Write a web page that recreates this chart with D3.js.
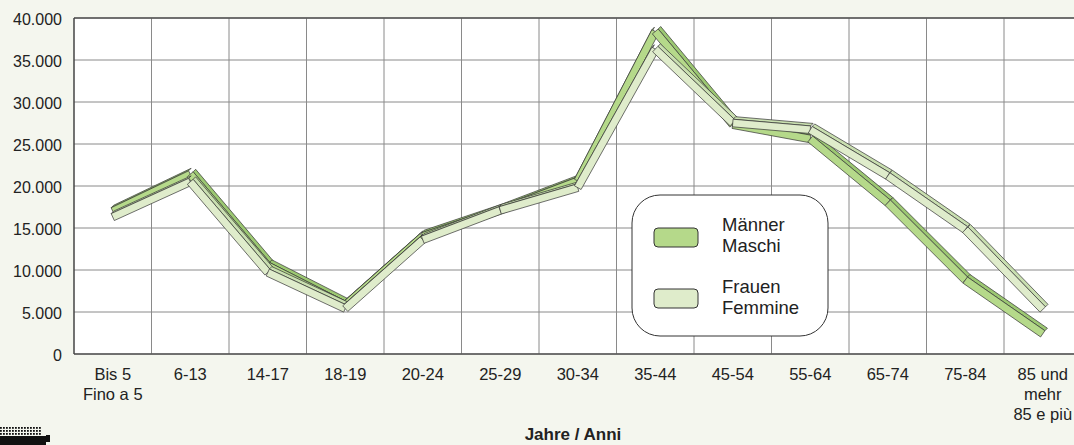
<!DOCTYPE html>
<html>
<head>
<meta charset="utf-8">
<script src="https://cdn.jsdelivr.net/npm/d3@7"></script>
<style>
  body { margin: 0; background: #f4f6ee; }
  svg { display: block; font-family: "Liberation Sans", Arial, sans-serif; }
</style>
</head>
<body>
<svg id="chart" width="1074" height="445"></svg>
<script>
// age groups (label lines)
const categories = [
  ['Bis 5', 'Fino a 5'], ['6-13'], ['14-17'], ['18-19'], ['20-24'], ['25-29'],
  ['30-34'], ['35-44'], ['45-54'], ['55-64'], ['65-74'], ['75-84'],
  ['85 und', 'mehr', '85 e più']
];
const maenner = [17000, 21400, 10500, 5800, 14000, 17100, 20600, 38400, 27300, 25600, 18000, 8800, 2400];
const frauen  = [16300, 20500, 9700, 5400, 13600, 17100, 19800, 36300, 27500, 26700, 21200, 14800, 5300];
const yTicks = [0, 5000, 10000, 15000, 20000, 25000, 30000, 35000, 40000];
const legendItems = [['Männer', 'Maschi'], ['Frauen', 'Femmine']];

const colM = '#b5d98a', colF = '#dfeccb';
const margin = {top: 18, left: 74, bottom: 91};
const width = 13 * 77.5;
const height = 445 - margin.top - margin.bottom;

const svg = d3.select('#chart');
const g = svg.append('g').attr('transform', `translate(${margin.left},${margin.top})`);

const x = d3.scaleBand().domain(d3.range(categories.length)).range([0, width]);
const y = d3.scaleLinear().domain([0, 40000]).range([height, 0]);
const fmt = d => d3.format(',')(d).replace(/,/g, '.');

g.append('rect').attr('width', width).attr('height', height).attr('fill', 'white');

// grid
g.selectAll('line.hgrid').data(yTicks).enter().append('line')
  .attr('x1', 0).attr('x2', width).attr('y1', d => y(d)).attr('y2', d => y(d))
  .attr('stroke', '#8a8a8a').attr('stroke-width', 1);
g.selectAll('line.vgrid').data(d3.range(1, categories.length + 1)).enter().append('line')
  .attr('x1', d => x.step() * d).attr('x2', d => x.step() * d).attr('y1', 0).attr('y2', height)
  .attr('stroke', '#8a8a8a').attr('stroke-width', 1);

// frame
g.append('line').attr('x1', 0).attr('x2', width).attr('y1', 0).attr('y2', 0).attr('stroke', '#555').attr('stroke-width', 1.5);
g.append('line').attr('x1', 0).attr('x2', width).attr('y1', height).attr('y2', height).attr('stroke', '#555').attr('stroke-width', 1.5);
g.append('line').attr('x1', 0).attr('x2', 0).attr('y1', 0).attr('y2', height).attr('stroke', '#444').attr('stroke-width', 1.5);

// y labels
g.selectAll('text.ylab').data(yTicks).enter().append('text')
  .attr('x', -12).attr('y', d => y(d) + 7)
  .attr('text-anchor', 'end').attr('font-size', 16).attr('fill', '#222')
  .text(fmt);

// x labels
const xl = g.selectAll('text.xlab').data(categories).enter().append('text')
  .attr('text-anchor', 'middle').attr('font-size', 16.5).attr('fill', '#222')
  .attr('y', height + 26);
xl.selectAll('tspan').data((d, i) => d.map(t => ({t, i}))).enter().append('tspan')
  .attr('x', d => x(d.i) + x.bandwidth() / 2)
  .attr('dy', (d, j) => j == 0 ? 0 : 20)
  .text(d => d.t);

svg.append('text').attr('x', 573).attr('y', 440).attr('text-anchor', 'middle')
  .attr('font-size', 17).attr('font-weight', 'bold').attr('fill', '#222').text('Jahre / Anni');

// 3D ribbon lines
function ribbon(values, color, shade) {
  const pts = values.map((v, i) => [x(i) + x.bandwidth() / 2, y(v)]);
  const grp = g.append('g');
  const t = 3.8, dx = 2.5, dy = -2.5;
  for (let i = 0; i < pts.length - 1; i++) {
    const [x1, y1] = pts[i], [x2, y2] = pts[i + 1];
    const len = Math.hypot(x2 - x1, y2 - y1);
    const nx = -(y2 - y1) / len * t, ny = (x2 - x1) / len * t;
    // top face
    grp.append('path')
      .attr('d', d3.line()([[x1 - nx, y1 - ny], [x2 - nx, y2 - ny], [x2 - nx + dx, y2 - ny + dy], [x1 - nx + dx, y1 - ny + dy]]) + 'Z')
      .attr('fill', shade).attr('stroke', '#333').attr('stroke-width', 0.7).attr('stroke-linejoin', 'round');
  }
  for (let i = 0; i < pts.length - 1; i++) {
    const [x1, y1] = pts[i], [x2, y2] = pts[i + 1];
    const len = Math.hypot(x2 - x1, y2 - y1);
    const nx = -(y2 - y1) / len * t, ny = (x2 - x1) / len * t;
    grp.append('path')
      .attr('d', d3.line()([[x1 - nx, y1 - ny], [x2 - nx, y2 - ny], [x2 + nx, y2 + ny], [x1 + nx, y1 + ny]]) + 'Z')
      .attr('fill', color).attr('stroke', '#333').attr('stroke-width', 0.7).attr('stroke-linejoin', 'round');
  }
}
ribbon(maenner, colM, '#9cc872');
ribbon(frauen, colF, '#c9dfb0');

// legend
const lg = svg.append('g').attr('transform', 'translate(632,195)');
lg.append('rect').attr('width', 196).attr('height', 141).attr('rx', 28)
  .attr('fill', 'white').attr('stroke', '#333').attr('stroke-width', 1);
lg.selectAll('rect.sw').data(legendItems).enter().append('rect')
  .attr('x', 22).attr('y', (d, i) => 33 + i * 61).attr('width', 44).attr('height', 19).attr('rx', 4)
  .attr('fill', (d, i) => i == 0 ? colM : colF).attr('stroke', '#333').attr('stroke-width', 1);
const lt = lg.selectAll('text.lt').data(legendItems).enter().append('text')
  .attr('font-size', 18.5).attr('fill', '#222')
  .attr('y', (d, i) => 36 + i * 62);
lt.selectAll('tspan').data(d => d).enter().append('tspan')
  .attr('x', 90).attr('dy', (d, j) => j == 0 ? 0 : 21).text(d => d);

// dotted logo mark bottom left
const dots = svg.append('g').attr('fill', '#111');
for (let r = 0; r < 3; r++) {
  for (let c = 0; c < 14; c++) {
    dots.append('rect').attr('x', c * 3).attr('y', 427 + r * 3).attr('width', 1.8).attr('height', 1.8);
  }
}
dots.append('rect').attr('x', 0).attr('y', 436).attr('width', 46).attr('height', 9);
dots.append('rect').attr('x', 46).attr('y', 435).attr('width', 4).attr('height', 7);
</script>
</body>
</html>
